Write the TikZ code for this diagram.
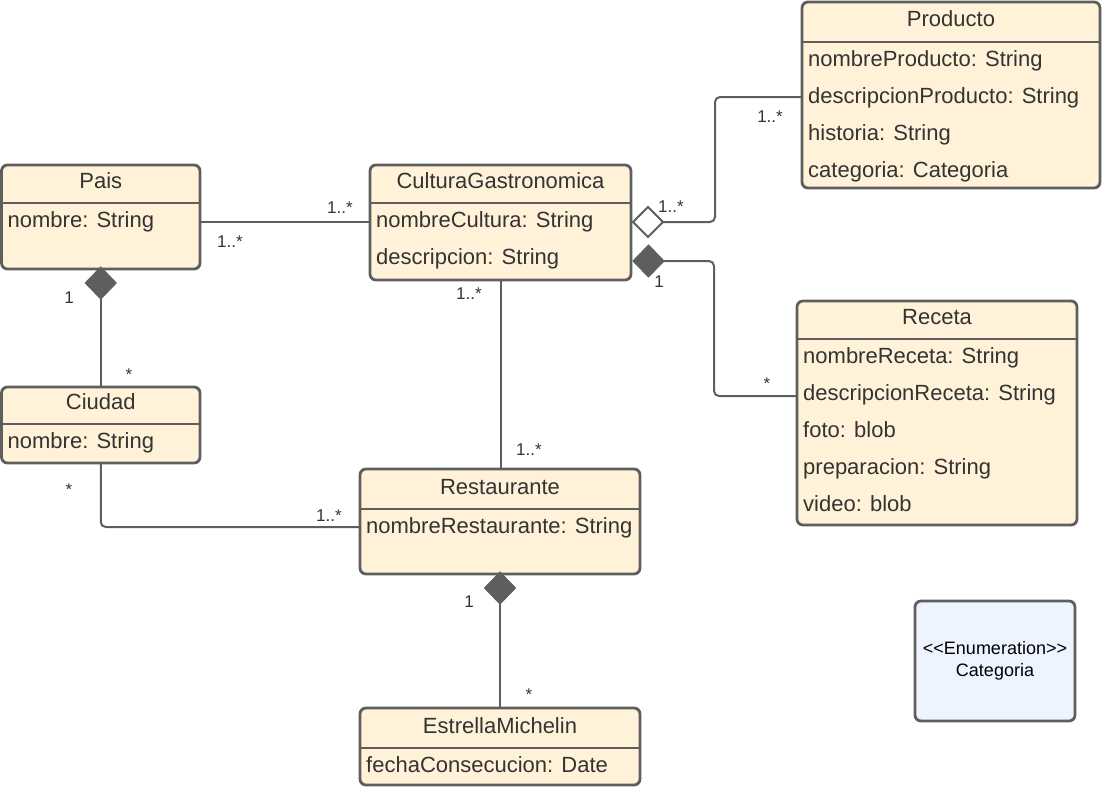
\documentclass[tikz,border=0pt]{standalone}
\usepackage{fontspec}
\setmainfont{Liberation Sans}
\usetikzlibrary{shapes.geometric,calc}

\definecolor{classfill}{HTML}{FFF2D9}
\definecolor{edge}{HTML}{5E5E5E}
\definecolor{ink}{HTML}{333333}
\definecolor{enumfill}{HTML}{EDF4FF}

\tikzset{
  classbox/.style={draw=edge, fill=classfill, line width=2.8pt, rounded corners=6pt,
    inner sep=0pt, outer sep=0pt, anchor=north west},
  divider/.style={draw=edge, line width=2.8pt},
  title/.style={text=ink, font=\fontsize{22}{26}\selectfont, inner sep=0pt, anchor=base},
  attr/.style={text=ink, font=\fontsize{22}{26}\selectfont, inner sep=0pt, anchor=base west},
  mult/.style={text=ink, font=\fontsize{17}{20}\selectfont, inner sep=0pt, anchor=base},
  assoc/.style={draw=edge, line width=2pt, rounded corners=5pt},
  comp/.style={diamond, fill=edge, draw=edge, line width=1pt, inner sep=0pt, outer sep=0pt,
    minimum width=31pt, minimum height=32pt},
  aggr/.style={diamond, fill=white, draw=edge, line width=2pt, inner sep=0pt, outer sep=0pt,
    minimum width=30pt, minimum height=30pt},
  enumbox/.style={draw=edge, fill=enumfill, line width=2.8pt, rounded corners=6pt,
    inner sep=0pt, outer sep=0pt, anchor=north west},
}

% class box: name, x1, y1, x2, y2, divider y, title
\newcommand\umlclass[7]{%
  \node[classbox, minimum width={#4-#2}, minimum height={#5-#3}] (#1) at (#2,#3) {};
  \draw[divider] (#1.west |- 0,#6) -- (#1.east |- 0,#6);
  \pgfmathsetmacro\titlebase{#6-15}%
  \node[title] (#1-name) at (#1.north |- 0,\titlebase) {#7};
}
% attribute row: class, divider y, index, text
\newcommand\umlattr[4]{%
  \pgfmathsetmacro\attrbase{#2+24+37*#3}%
  \node[attr] (#1-a#3) at ([xshift=6pt]#1.west |- 0,\attrbase) {#4};
}

\begin{document}
\begin{tikzpicture}[x=1pt, y=-1pt]
\useasboundingbox (0,0) rectangle (1103,787);

% classes
\umlclass{pais}{1.5}{165}{200}{269}{203}{Pais}
\umlattr{pais}{203}{0}{nombre: String}

\umlclass{cult}{370}{165}{631}{280}{203}{CulturaGastronomica}
\umlattr{cult}{203}{0}{nombreCultura: String}
\umlattr{cult}{203}{1}{descripcion: String}

\umlclass{prod}{802}{2}{1100}{188}{42}{Producto}
\umlattr{prod}{42}{0}{nombreProducto: String}
\umlattr{prod}{42}{1}{descripcionProducto: String}
\umlattr{prod}{42}{2}{historia: String}
\umlattr{prod}{42}{3}{categoria: Categoria}

\umlclass{rec}{797}{301}{1077}{525}{339}{Receta}
\umlattr{rec}{339}{0}{nombreReceta: String}
\umlattr{rec}{339}{1}{descripcionReceta: String}
\umlattr{rec}{339}{2}{foto: blob}
\umlattr{rec}{339}{3}{preparacion: String}
\umlattr{rec}{339}{4}{video: blob}

\umlclass{ciud}{1.5}{387}{200}{463}{424}{Ciudad}
\umlattr{ciud}{424}{0}{nombre: String}

\umlclass{rest}{360}{469}{640}{574}{509}{Restaurante}
\umlattr{rest}{509}{0}{nombreRestaurante: String}

\umlclass{estr}{360}{708}{640}{785}{748}{EstrellaMichelin}
\umlattr{estr}{748}{0}{fechaConsecucion: Date}

% enumeration (kerns keep the angle brackets from merging into guillemets)
\node[enumbox, minimum width=160pt, minimum height=120pt] (enum) at (915,601) {};
\node[align=center, font=\fontsize{18}{22}\selectfont, text=black, inner sep=0pt] (enum-text)
  at (enum.center) {<\kern0pt<Enumeration>\kern0pt>\\Categoria};

% Pais -- CulturaGastronomica
\draw[assoc] (pais.east |- 0,222) -- (cult.west |- 0,222);
\node[mult] (m1) at (230,247) {1..*};
\node[mult] (m2) at (340,213) {1..*};

% Pais <>-- Ciudad
\node[comp, anchor=north] (pd) at ([yshift=2pt]pais.south) {};
\draw[assoc] (pd.south) -- (ciud.north);
\node[mult] (m3) at (69,303) {1};
\node[mult] (m4) at (129,380) {*};

% Ciudad -- Restaurante
\draw[assoc] (ciud.south) |- (rest.west |- 0,527);
\node[mult] (m5) at (69,495) {*};
\node[mult] (m6) at (329,521) {1..*};

% CulturaGastronomica -- Restaurante
\draw[assoc] (cult.south) -- (cult.south |- rest.north);
\node[mult] (m7) at (469,299) {1..*};
\node[mult] (m8) at (529,455) {1..*};

% Restaurante <>-- EstrellaMichelin
\node[comp, anchor=north] (rd) at ([yshift=2pt]rest.south) {};
\draw[assoc] (rd.south) -- (rd.south |- estr.north);
\node[mult] (m9) at (469,607) {1};
\node[mult] (m10) at (529,700) {*};

% CulturaGastronomica <>-- Producto (aggregation)
\node[aggr, anchor=west] (ad) at ([xshift=2pt]cult.east |- 0,222) {};
\coordinate (bendA) at (715,222);
\draw[assoc] (ad.east) -- (bendA) |- (prod.west |- 0,97);
\node[mult] (m11) at (671,212) {1..*};
\node[mult] (m12) at (770,122) {1..*};

% CulturaGastronomica <>-- Receta (composition)
\node[comp, anchor=west] (cd) at ([xshift=2pt]cult.east |- 0,261) {};
\coordinate (bendB) at (714,261);
\draw[assoc] (cd.east) -- (bendB) |- (rec.west |- 0,396);
\node[mult] (m13) at (659,287) {1};
\node[mult] (m14) at (767,389) {*};
\end{tikzpicture}
\end{document}
